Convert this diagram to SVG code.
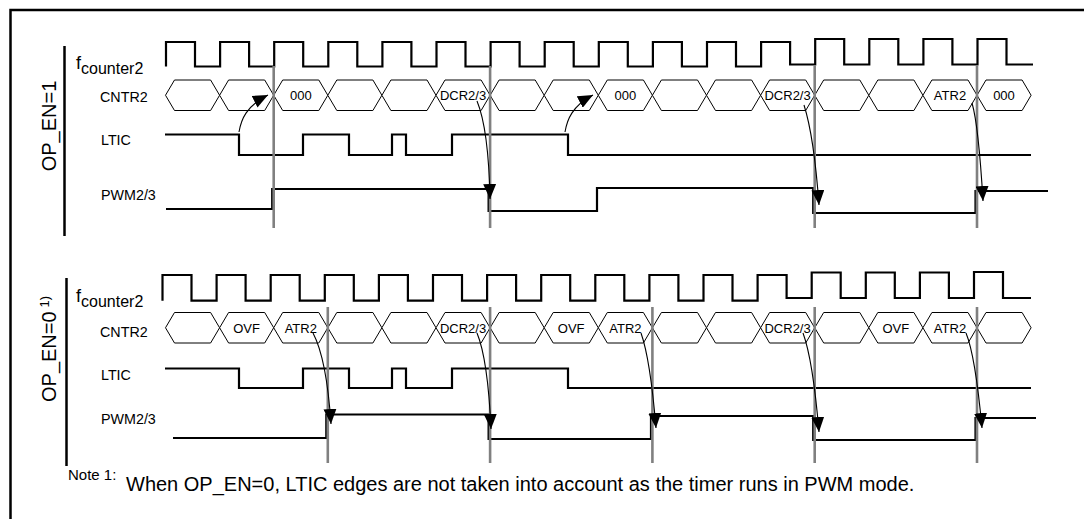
<svg xmlns="http://www.w3.org/2000/svg" xmlns:xlink="http://www.w3.org/1999/xlink" width="1084" height="519" viewBox="0 0 1084 519">
<style>
text{font-family:"Liberation Sans",Arial,sans-serif;fill:#000}
.wave{fill:none;stroke:#000;stroke-width:2.2;stroke-linejoin:miter}
.hex{fill:#fff;stroke:#000;stroke-width:1}
.grid{stroke:#808080;stroke-width:2.6}
.bar{stroke:#000;stroke-width:2.5}
.arr{fill:none;stroke:#000;stroke-width:1.1;marker-end:url(#ah)}
.sig{font-size:14.3px}
.hl{font-size:13px;text-anchor:middle}
.fl{font-size:18px}
.fs{font-size:16px}
.op{font-size:20px}
</style>
<defs>
<polygon id="hx" class="hex" points="0,15.25 9,0 45.1,0 54.1,15.25 45.1,30.5 9,30.5"/>
<marker id="ah" viewBox="0 0 15 13" refX="15" refY="6.5" markerWidth="15" markerHeight="13" markerUnits="userSpaceOnUse" orient="auto">
<path d="M0,0 L15,6.5 L0,13 z" fill="#000"/>
</marker>
</defs>
<rect width="1084" height="519" fill="#fff"/>
<g id="frame">
<path d="M10.5,519 V10 H1084" fill="none" stroke="#000" stroke-width="2.5"/>
</g>

<g id="panel-op-en-1">
<line class="bar" x1="64.5" y1="46" x2="64.5" y2="236"/>
<text class="op" transform="translate(56,126) rotate(-90)" text-anchor="middle">OP_EN=1</text>
<text x="76" y="69" class="fl">f<tspan class="fs" dy="4.5">counter2</tspan></text>
<text x="100" y="102" class="sig">CNTR2</text>
<text x="101" y="145" class="sig">LTIC</text>
<text x="101" y="200" class="sig">PWM2/3</text>
<path id="clk1" class="wave" d="M166,66.5 V42 H195 V66.5 H220.1 V42 H249.1 V66.5 H274.2 V42 H303.2 V66.5 H328.3 V42 H357.3 V66.5 H382.4 V42 H411.4 V66.5 H436.5 V42 H465.5 V66.5 H490.6 V42 H519.6 V66.5 H544.7 V42 H573.7 V66.5 H598.8 V42 H627.8 V66.5 H652.9 V42 H681.9 V66.5 H707 V42 H736 V66.5 H761.1 V42 H790.1 V64.5 H815.2 V39 H844.2 V64.5 H869.3 V39 H898.3 V64.5 H923.4 V39 H952.4 V64.5 H977.5 V39 H1006.5 V64.5 H1033"/>
<g id="cntr1">
<use xlink:href="#hx" x="165.5" y="80"/>
<use xlink:href="#hx" x="219.6" y="80"/>
<use xlink:href="#hx" x="273.7" y="80"/>
<use xlink:href="#hx" x="327.8" y="80"/>
<use xlink:href="#hx" x="381.9" y="80"/>
<use xlink:href="#hx" x="436" y="80"/>
<use xlink:href="#hx" x="490.1" y="80"/>
<use xlink:href="#hx" x="544.2" y="80"/>
<use xlink:href="#hx" x="598.3" y="80"/>
<use xlink:href="#hx" x="652.4" y="80"/>
<use xlink:href="#hx" x="706.5" y="80"/>
<use xlink:href="#hx" x="760.6" y="80"/>
<use xlink:href="#hx" x="814.7" y="80"/>
<use xlink:href="#hx" x="868.8" y="80"/>
<use xlink:href="#hx" x="922.9" y="80"/>
<use xlink:href="#hx" x="977" y="80"/>
<text class="hl" x="300.8" y="100">000</text>
<text class="hl" x="463" y="100">DCR2/3</text>
<text class="hl" x="625.4" y="100">000</text>
<text class="hl" x="787.6" y="100">DCR2/3</text>
<text class="hl" x="950" y="100">ATR2</text>
<text class="hl" x="1004" y="100">000</text>
</g>
<path id="ltic1" class="wave" d="M165,134.5 H239 V155 H303 V134.5 H349 V155 H392 V134.5 H406 V155 H452 V134.5 H568 V155 H1031"/>
<path id="pwm1" class="wave" d="M166,209 H272.2 V189 H488.6 V211 H597 V188 H813.2 V213 H975.5 V191 H1048"/>
<g id="grid1">
<line class="grid" x1="273.7" y1="66" x2="273.7" y2="228"/>
<line class="grid" x1="490.1" y1="66" x2="490.1" y2="228"/>
<line class="grid" x1="814.7" y1="66" x2="814.7" y2="228"/>
<line class="grid" x1="977" y1="66" x2="977" y2="228"/>
</g>
</g>

<g id="panel-op-en-0">
<line class="bar" x1="66.5" y1="278" x2="66.5" y2="466"/>
<text class="op" transform="translate(56,402) rotate(-90)">OP_EN=0<tspan font-size="13px" dx="4" dy="-7">1)</tspan></text>
<text x="76" y="302" class="fl">f<tspan class="fs" dy="4.5">counter2</tspan></text>
<text x="100" y="336.5" class="sig">CNTR2</text>
<text x="101" y="380" class="sig">LTIC</text>
<text x="101" y="424" class="sig">PWM2/3</text>
<path id="clk0" class="wave" d="M162.5,300.7 V275 H191.5 V300.7 H216.6 V275 H245.6 V300.7 H270.7 V275 H299.7 V300.7 H324.8 V275 H353.8 V300.7 H378.9 V275 H407.9 V300.7 H433 V275 H462 V300.7 H487.1 V275 H516.1 V300.7 H541.2 V275 H570.2 V300.7 H595.3 V275 H624.3 V300.7 H649.4 V275 H678.4 V300.7 H703.5 V275 H732.5 V300.7 H757.6 V275 H786.6 V298 H811.7 V272.5 H840.7 V298 H865.8 V272.5 H894.8 V298 H919.9 V272.5 H948.9 V298 H974 V272 H1003 V298 H1031"/>
<g id="cntr0">
<use xlink:href="#hx" x="165.5" y="312.5"/>
<use xlink:href="#hx" x="219.6" y="312.5"/>
<use xlink:href="#hx" x="273.7" y="312.5"/>
<use xlink:href="#hx" x="327.8" y="312.5"/>
<use xlink:href="#hx" x="381.9" y="312.5"/>
<use xlink:href="#hx" x="436" y="312.5"/>
<use xlink:href="#hx" x="490.1" y="312.5"/>
<use xlink:href="#hx" x="544.2" y="312.5"/>
<use xlink:href="#hx" x="598.3" y="312.5"/>
<use xlink:href="#hx" x="652.4" y="312.5"/>
<use xlink:href="#hx" x="706.5" y="312.5"/>
<use xlink:href="#hx" x="760.6" y="312.5"/>
<use xlink:href="#hx" x="814.7" y="312.5"/>
<use xlink:href="#hx" x="868.8" y="312.5"/>
<use xlink:href="#hx" x="922.9" y="312.5"/>
<use xlink:href="#hx" x="977" y="312.5"/>
<text class="hl" x="246.6" y="332.5">OVF</text>
<text class="hl" x="300.8" y="332.5">ATR2</text>
<text class="hl" x="463" y="332.5">DCR2/3</text>
<text class="hl" x="571.2" y="332.5">OVF</text>
<text class="hl" x="625.4" y="332.5">ATR2</text>
<text class="hl" x="787.6" y="332.5">DCR2/3</text>
<text class="hl" x="895.8" y="332.5">OVF</text>
<text class="hl" x="950" y="332.5">ATR2</text>
</g>
<path id="ltic0" class="wave" d="M165,368.5 H239 V388 H303 V368.5 H349 V388 H392 V368.5 H406 V388 H452 V368.5 H568 V388 H1031"/>
<path id="pwm0" class="wave" d="M173,438 H326.3 V414.5 H488.6 V439 H651 V416 H813.2 V440 H975.5 V418 H1036"/>
<g id="grid0">
<line class="grid" x1="327.8" y1="307" x2="327.8" y2="463"/>
<line class="grid" x1="490.1" y1="307" x2="490.1" y2="463"/>
<line class="grid" x1="652.4" y1="307" x2="652.4" y2="463"/>
<line class="grid" x1="814.7" y1="307" x2="814.7" y2="463"/>
<line class="grid" x1="977" y1="307" x2="977" y2="463"/>
</g>
</g>

<g id="connectors">
<path class="arr" d="M239,132 C241,120 246,106 268,95"/>
<path class="arr" d="M565,132 C567,120 572,106 593,95"/>
<path class="arr" d="M477,101 C484,118 489,150 490,199"/>
<path class="arr" d="M804,105 C810,124 815,150 819,205"/>
<path class="arr" d="M972,103 C977,120 980,150 983,201"/>
<path class="arr" d="M313,333 C322,350 328,380 331,424"/>
<path class="arr" d="M477,333 C484,350 489,385 491,429"/>
<path class="arr" d="M641,333 C647,350 652,380 656,428"/>
<path class="arr" d="M803,333 C810,352 815,385 819,432"/>
<path class="arr" d="M966,333 C973,350 978,385 982,428"/>
</g>

<g id="note">
<text x="68" y="480" font-size="15px">Note 1:</text>
<text x="126" y="491" font-size="20px">When OP_EN=0, LTIC edges are not taken into account as the timer runs in PWM mode.</text>
</g>
</svg>
